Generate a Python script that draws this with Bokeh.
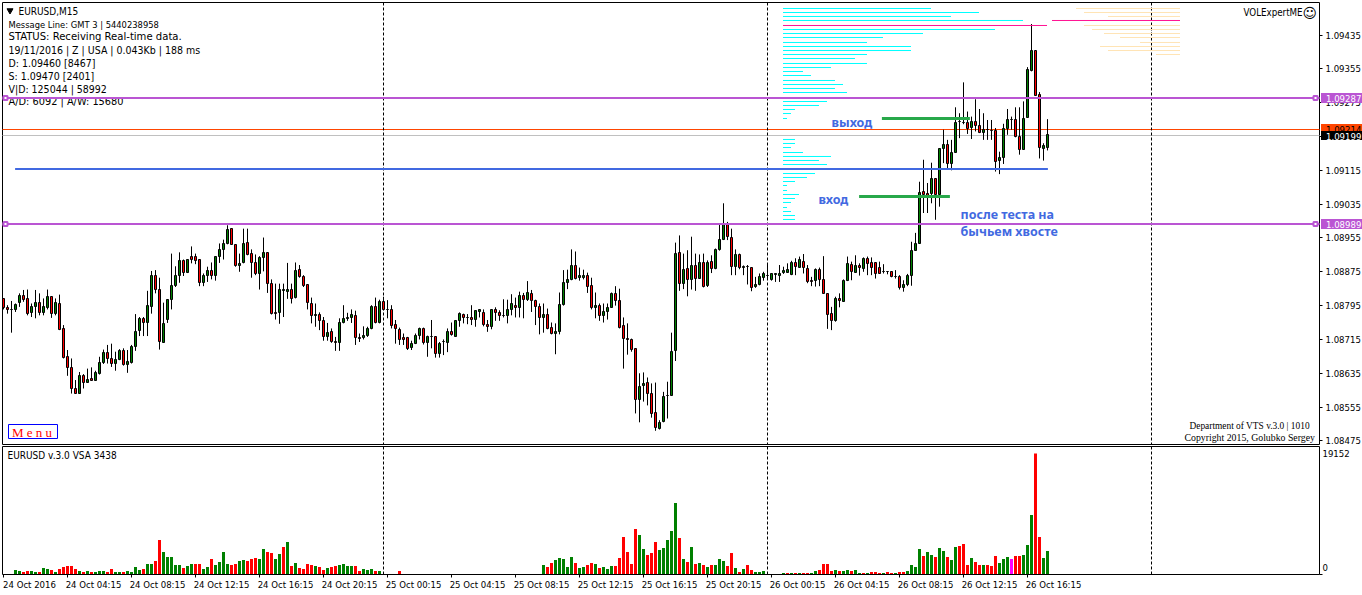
import math
from bokeh.plotting import figure
from bokeh.models import Range1d, FixedTicker, Label, PrintfTickFormatter, ColumnDataSource, BoxAnnotation
from bokeh.layouts import column
from bokeh.embed import file_html
from bokeh.resources import INLINE

# EURUSD M15 candles: prices in points (1e-5) above 1.08000
BASE_PRICE = 1.08
OPEN_PTS = [
812,791,786,786,802,819,812,778,792,802,
778,790,817,776,800,741,675,649,599,587,
630,613,623,619,634,660,684,670,658,668,
689,656,661,698,735,765,755,793,866,833,
707,762,809,842,866,902,873,911,911,904,
850,866,878,866,911,928,942,977,939,889,
897,944,918,897,871,909,921,847,779,778,
831,828,833,814,880,864,845,800,772,774,
760,721,734,710,708,755,765,766,772,720,
720,724,741,793,755,805,786,786,750,739,
720,720,695,705,724,741,708,721,722,682,
709,708,734,722,760,774,767,767,762,781,
779,750,745,786,779,771,771,786,795,790,
819,809,824,807,793,767,774,743,729,733,
798,850,857,890,861,862,866,843,791,795,
771,781,791,824,807,748,717,715,694,573,
606,613,587,542,505,521,583,583,689,921,
847,883,857,890,859,897,842,899,883,928,
951,989,956,887,916,885,887,885,840,845,
862,867,857,869,867,873,873,869,897,885,
900,883,855,854,881,857,824,777,759,812,
804,854,892,874,890,883,907,897,897,885,
876,876,876,863,865,838,844,866,926,942,
1066,1061,1061,1096,1057,1167,1177,1132,1156,1230,
1229,1229,1216,1230,1222,1204,1212,1210,1208,1138,
1145,1215,1236,1236,1196,1165,1241,1351,1399,1295,1167,1169]
CLOSE_PTS = [
791,785,786,798,819,810,776,793,802,778,
793,817,776,802,739,672,649,599,587,630,
613,620,618,637,661,684,670,658,668,689,
655,663,698,734,765,755,795,866,833,709,
753,809,843,866,902,873,904,904,902,849,
866,878,867,911,928,942,975,939,890,895,
942,916,897,871,909,921,847,776,776,833,
833,833,813,878,864,842,802,772,774,759,
721,731,710,707,755,765,767,774,720,717,
724,741,793,755,805,786,786,748,741,715,
715,693,705,724,741,708,722,721,682,705,
709,734,726,760,776,767,767,762,783,786,
750,745,786,779,771,771,786,800,790,819,
809,826,807,793,767,774,742,729,734,798,
850,857,890,859,866,866,840,791,795,771,
780,791,824,807,743,717,715,691,573,604,
611,587,540,507,519,580,583,687,918,847,
880,857,890,859,897,840,897,883,928,951,
989,958,887,916,885,887,887,838,845,864,
871,867,871,871,871,879,881,897,887,904,
885,851,851,881,857,824,774,759,812,807,
855,895,875,890,885,907,895,885,871,871,
876,876,863,863,838,846,866,926,942,1063,
1057,1053,1096,1057,1167,1177,1132,1158,1229,1230,
1229,1215,1230,1222,1204,1212,1212,1210,1136,1146,
1215,1236,1236,1196,1165,1238,1353,1399,1293,1169,1173,1199]
HIGH_PTS = [
812,796,806,800,824,832,833,800,832,824,
812,833,817,812,821,749,690,670,619,638,
633,646,649,641,674,691,702,705,686,692,
694,690,702,775,768,768,830,877,879,861,
802,809,918,888,921,904,904,935,918,904,
871,887,897,911,942,951,985,977,939,918,
977,977,928,916,912,956,921,857,847,847,
847,896,847,897,891,867,845,814,800,779,
768,754,741,721,765,796,778,786,783,729,
746,745,796,814,809,816,808,796,761,743,
729,721,712,729,743,743,724,761,722,709,
715,741,755,761,779,776,775,796,784,786,
786,761,786,791,784,810,809,822,814,828,
825,853,832,809,800,800,788,755,753,826,
879,880,928,923,885,880,873,861,826,800,
800,800,826,841,835,767,753,717,694,635,
637,625,611,613,524,591,615,731,944,961,
918,926,958,918,916,918,902,914,930,989,
1037,993,977,928,918,890,891,885,863,871,
875,895,872,871,891,887,895,901,907,911,
917,891,863,883,885,912,824,792,816,824,
857,911,899,914,895,909,911,909,897,899,
893,875,876,879,867,855,870,946,967,1088,
1140,1085,1133,1096,1167,1211,1187,1187,1264,1250,
1323,1254,1242,1283,1260,1250,1234,1234,1215,1159,
1225,1260,1242,1264,1264,1278,1359,1461,1399,1300,1179,1236]
LOW_PTS = [
786,776,731,780,792,804,772,768,765,772,
772,786,766,772,737,670,629,587,587,587,
599,613,618,617,632,657,658,650,641,666,
653,636,658,688,723,723,723,776,824,691,
707,754,786,839,849,865,872,895,893,841,
841,851,857,854,896,904,940,939,887,875,
895,914,861,867,833,876,825,774,762,752,
768,811,800,812,861,839,786,753,745,737,
712,712,707,688,688,753,759,754,702,709,
715,721,739,753,753,784,765,741,705,702,
702,690,690,704,715,703,674,694,672,672,
678,685,724,721,745,753,751,749,745,767,
746,733,739,759,759,767,753,772,767,767,
765,806,780,749,727,731,739,727,680,727,
795,834,855,857,854,857,825,786,765,759,
755,762,791,795,741,646,679,686,540,519,
568,559,530,499,502,519,528,583,664,830,
834,817,833,830,858,838,839,872,881,925,
950,950,867,867,881,867,845,829,837,843,
854,857,854,851,851,870,873,867,867,884,
871,848,841,840,841,824,740,737,757,791,
804,853,855,873,866,875,867,867,859,871,
871,869,862,859,833,828,841,842,936,942,
1014,1014,1037,998,1029,1132,1120,1115,1156,1191,
1224,1201,1189,1207,1203,1187,1187,1187,1112,1106,
1130,1199,1211,1193,1152,1165,1241,1349,1291,1143,1138,1162]

VOLUME = [
0,0,0,636,477,318,477,477,318,318,
954,795,636,318,795,1113,1272,1272,795,477,
318,477,318,318,477,477,318,795,318,318,
318,477,318,1113,636,795,1590,1590,2067,5406,
3498,2703,2703,1431,1431,954,1272,1590,1590,1590,
795,1113,2385,1431,1908,3498,1590,1431,1590,2067,
2226,2067,2385,2544,2385,3975,3498,3339,2385,3180,
4293,5088,1272,1749,954,795,1590,1431,1272,1113,
636,954,1113,1272,1431,1590,1272,1272,1272,477,
795,636,795,477,477,0,0,0,0,477,
0,0,0,0,0,0,0,0,0,0,
0,0,0,0,0,0,0,0,0,0,
0,0,0,0,0,0,0,0,0,0,
0,0,0,0,0,1431,1113,1749,2226,2544,
2385,1113,2703,1749,954,1113,1431,1749,1590,954,
1113,795,1272,1272,2544,5883,3498,1590,7155,6201,
3975,3021,3339,5088,3816,4134,5406,6837,11289,5724,
2385,1908,4293,1590,1749,1431,1113,1431,1431,2385,
2067,1272,3339,954,318,795,1431,636,318,318,
477,0,0,0,0,159,159,159,159,159,
159,159,159,477,636,1590,1590,477,636,477,
477,636,477,636,159,159,159,318,318,159,
159,318,159,159,318,318,477,1431,1113,3975,
2862,3498,3021,2703,4134,3657,2703,2226,4293,4452,
4770,1431,2544,1908,1431,1431,1431,1272,2862,1749,
2385,2703,2385,2862,2862,3021,4611,9381,19152,5883,2544,3657]
VOLUME_DIR = list(
"gggggrrggr" "ggrgrrrrrg" "rgrgggrrgg" "rggggrggrr" "gggggrggrr"
"ggrggggrrg" "grrrggrrgg" "rgrgrrrrgr" "rgrrggggrr" "gggrgggggr"
"gggggggggg" "gggggggggg" "gggggggggg" "ggggggrrgg" "gggrggrrgr"
"gggrrrrrrg" "grrrgggggr" "grgrgrgrgg" "grrgrgrrgg" "ggggggrgrg"
"rrggrrrrgr" "ggrggrgrrr" "grrgrrgggg" "rggrggrggr" "rrgrrgrrrg"
"ggmrrgggrrgg")

# volume-at-price profiles (price points above 1.08000, length in bar units)
PROFILE_LEVELS = [1497.7,1488.2,1478.8,1469.3,1457.5,1448.0,1438.5,1429.1,1417.3,1407.8,1398.3,1388.9,1379.4,1367.6,1358.1,1348.7,1339.2,1327.4,1317.9,1308.5,1299.0,
                  1277.7,1268.3,1258.8,1249.3,1237.5,1187.9,1178.4,1168.9,1157.1,1147.7,1138.2,1128.7,1116.9,1107.4,1098.0,1088.5,1079.1,1067.2,1057.8,1048.3,1038.9,1027.0,1017.6,1008.1,998.7]
PROFILE_LEFT = [37,49,42,60,66,53,35,25,21,32,32,21,18,21,12,5,7,13,15,13,16,
                11,9,3,2,1,3,3,2,5,12,9,11,10,8,6,3,1,1,4,3,2,1,2,3,3]
PROFILE_RIGHT_LEVELS = [1497.7,1488.2,1478.8,1469.3,1457.5,1448.0,1438.5,1429.1,1417.3,1407.8,1398.3,1388.9]
PROFILE_RIGHT = [26,24,18,32,24,22,19,15,10,20,18,6]

PRICE_TICKS = [1.09435,1.09355,1.09275,1.09195,1.09115,1.09035,1.08955,1.08875,1.08795,1.08715,1.08635,1.08555,1.08475]
TIME_TICK_BARS = list(range(0, 272, 16))
TIME_LABELS = ["24 Oct 2016","24 Oct 04:15","24 Oct 08:15","24 Oct 12:15","24 Oct 16:15","24 Oct 20:15",
               "25 Oct 00:15","25 Oct 04:15","25 Oct 08:15","25 Oct 12:15","25 Oct 16:15","25 Oct 20:15",
               "26 Oct 00:15","26 Oct 04:15","26 Oct 08:15","26 Oct 12:15","26 Oct 16:15"]
VOLUME_MAX = 19152
DAY_BREAK_BARS = [95, 191, 287]
LEVEL_UPPER, LEVEL_LOWER, LEVEL_ASK, LEVEL_BID = 1.09287, 1.08989, 1.09214, 1.09199
LINE_UPPER, LINE_LOWER, LINE_ASK, LINE_BID = 1.09286, 1.08988, 1.092115, 1.091973
TREND_PRICE, TREND_BARS = 1.091181, (2.9, 261.1)
EXIT_PRICE, EXIT_BARS = 1.092375, (219.6, 241.6)
ENTRY_PRICE, ENTRY_BARS = 1.090531, (213.9, 236.6)
INFO_LINES = ["19/11/2016 | Z | USA | 0.043Kb | 188 ms",
              "D: 1.09460  [8467]", "S: 1.09470  [2401]",
              "V|D: 125044 | 58992"]
STATUS_LINE = "STATUS:  Receiving Real-time data."
AD_LINE = "A/D: 6092 | A/W: 15680"

GREEN, RED, MAGENTA = "#008000", "#FF0000", "#FF00FF"
PURPLE, BLUE, LINE_GREEN = "#BA55D3", "#4169E1", "#28A84A"
FONT, SERIF = "DejaVu Sans Condensed", "Liberation Serif"
PX = 2.365e-5
H1, H2 = 445, 150
VPX = 159

def price(p):
    return BASE_PRICE + p / 1e5
def py2price(y):
    return 1.09435 - (y - 35) * PX
def snap(pr):
    y = 35 + (1.09435 - pr) / PX
    return py2price(math.floor(y) + 0.5)
def px2bar(x):
    return (x - 3.5) / 4

n = len(OPEN_PTS)
xs = list(range(n))
xr = Range1d(px2bar(0.5), px2bar(1362.5))
AXIS_BAR = px2bar(1319.5)

COMMON = dict(toolbar_location=None, output_backend="svg", min_border_left=0, min_border_right=0,
              min_border_top=0, min_border_bottom=0, outline_line_color=None, y_axis_location="right")
p = figure(width=1362, height=H1, x_range=xr, y_range=Range1d(py2price(H1 + 0.5), py2price(0.5)), x_axis_location=None, **COMMON)
p.grid.visible = False
ax = p.yaxis[0]
ax.fixed_location = AXIS_BAR
ax.ticker = FixedTicker(ticks=PRICE_TICKS)
ax.formatter = PrintfTickFormatter(format="%.5f")
ax.major_tick_out, ax.major_tick_in, ax.minor_tick_out, ax.minor_tick_in = 3, 0, 0, 0
ax.major_label_standoff = 3
ax.major_label_text_font = FONT
ax.major_label_text_font_size = "9.5px"
ax.major_label_text_color = "black"
ax.axis_line_color = None

# frame
L, R = px2bar(2.5), AXIS_BAR
p.segment([L, L, R, L], [py2price(2.5), py2price(444.5), py2price(2.5), py2price(2.5)],
          [R, R, R, L], [py2price(2.5), py2price(444.5), py2price(444.5), py2price(444.5)], line_color="black", line_width=1, level="underlay")
p.segment([L, L], [LINE_ASK, LINE_BID], [R, R], [LINE_ASK, LINE_BID], line_color=["#FF4500", "#C0C0C0"], line_width=1, level="underlay")
p.segment(DAY_BREAK_BARS, [py2price(2.5)] * 3, DAY_BREAK_BARS, [py2price(444.5)] * 3, line_color="black", line_width=1, line_dash="3 2", level="underlay")

hi = [price(max(h, o, c)) for h, o, c in zip(HIGH_PTS, OPEN_PTS, CLOSE_PTS)]
lo = [price(min(l, o, c)) for l, o, c in zip(LOW_PTS, OPEN_PTS, CLOSE_PTS)]
op = [snap(price(v)) for v in OPEN_PTS]
cl = [snap(price(v)) for v in CLOSE_PTS]
cols = [GREEN if c >= o else RED for o, c in zip(OPEN_PTS, CLOSE_PTS)]
src = ColumnDataSource(dict(x=xs, hi=hi, lo=lo, op=op, cl=cl, col=cols))
p.segment("x", "hi", "x", "lo", source=src, line_color="black", line_width=1)
p.vbar("x", 0.5, "op", "cl", source=src, fill_color="col", line_color="black", line_width=1)

# volume profiles
prof_x0 = px2bar(783)
prof_right = px2bar(1180)
left_poc, right_poc = max(PROFILE_LEFT), max(PROFILE_RIGHT)
lev_l = [price(v) for v in PROFILE_LEVELS]
lev_r = [price(v) for v in PROFILE_RIGHT_LEVELS]
p.segment([prof_x0] * len(PROFILE_LEFT), lev_l, [prof_x0 + v for v in PROFILE_LEFT], lev_l,
          line_color=["#FF1493" if v == left_poc else "#00FFFF" for v in PROFILE_LEFT], line_width=1)
p.segment([prof_right - v for v in PROFILE_RIGHT], lev_r, [prof_right] * len(PROFILE_RIGHT), lev_r,
          line_color=["#FF1493" if v == right_poc else "#FFE4B5" for v in PROFILE_RIGHT], line_width=1)

def T(fig, px, py, s, size=10, font=FONT, color="black", style="normal", align="left", **kw):
    lb = Label(x=px, y=py, x_units="canvas", y_units="canvas", text=s, text_font=font,
               text_font_size=f"{size}px", text_color=color, text_font_style=style,
               text_align=align, text_baseline="middle", **kw)
    fig.add_layout(lb)
    return lb

def BOX(fig, l, r, t, b, fill, line=None):
    fig.add_layout(BoxAnnotation(left=l - 0.5, right=r - 0.5, top=t - 0.5, bottom=b - 0.5, left_units="canvas", right_units="canvas",
                                 top_units="canvas", bottom_units="canvas", fill_color=fill, fill_alpha=1,
                                 line_color=line, line_alpha=1, line_width=1))

# header
p.scatter([px2bar(10)], [py2price(10.5)], marker="inverted_triangle", size=6, color="black")
T(p, 18, 11, "EURUSD,M15", 10)
T(p, 8, 24, "Message Line: GMT 3 | 5440238958", 9.3)
T(p, 8, 36, STATUS_LINE, 11.2)
for py, line in zip([49, 62, 75, 88], INFO_LINES):
    T(p, 8, py, line, 10.5)
T(p, 8, 101, AD_LINE, 10.9, level="underlay")

T(p, 1243, 12, "VOLExpertME", 9.7)
T(p, 1302, 12, "\u263a", 14, font="DejaVu Sans")
T(p, 1189, 425, "Department of VTS  v.3.0 | 1010", 9.4, font=SERIF)
T(p, 1184, 437, "Copyright 2015, Golubko Sergey", 9.8, font=SERIF)
BOX(p, 8.5, 57.5, 424.5, 438.5, "white", "#0000FF")
T(p, 11.5, 431.5, "M e n u", 13, font=SERIF, color="#FF0000")
ANNOT = dict(size=12.5, font="Noto Sans", color=BLUE, style="bold")
T(p, 831, 122, "выход", **ANNOT)
T(p, 818, 199, "вход", **ANNOT)
T(p, 960, 214, "после теста на", **ANNOT)
T(p, 960, 231, "бычьем хвосте", **ANNOT)

# horizontal levels and trade lines
p.segment([TREND_BARS[0]], [TREND_PRICE], [TREND_BARS[1]], [TREND_PRICE], line_color=BLUE, line_width=2)
p.segment([EXIT_BARS[0], ENTRY_BARS[0]], [EXIT_PRICE, ENTRY_PRICE], [EXIT_BARS[1], ENTRY_BARS[1]], [EXIT_PRICE, ENTRY_PRICE],
          line_color=LINE_GREEN, line_width=3)
p.segment([L, L], [LINE_UPPER, LINE_LOWER], [R, R], [LINE_UPPER, LINE_LOWER], line_color=PURPLE, line_width=2)
for lev in (LINE_UPPER, LINE_LOWER):
    p.scatter([px2bar(5.5), px2bar(1315.5)], [lev, lev], marker="square", size=4, fill_color="white", line_color=PURPLE, line_width=2)

# price tags on the axis
for lev, t, b, bg, fg, ty in ((LEVEL_UPPER, 93, 103, PURPLE, "white", 98), (LEVEL_LOWER, 219, 229, PURPLE, "white", 224),
                              (LEVEL_ASK, 124, 131, "#FF4500", "black", 129), (LEVEL_BID, 131, 140, "black", "white", 135.5)):
    BOX(p, 1321, 1362, t, b, bg)
    T(p, 1325.5, ty, f"{lev:.5f}", 9.5, color=fg)
BOX(p, 1321, 1362, 131, 140, "black")
T(p, 1325.5, 135.5, f"{LEVEL_BID:.5f}", 9.5, color="white")

# volume panel
def vy(y):
    return (574 - y) * VPX
v = figure(width=1362, height=H2, x_range=xr, y_range=Range1d(vy(445.5 + H2), vy(445.5)), **COMMON)
v.grid.visible = False
vc = [{"g": GREEN, "r": RED, "m": MAGENTA}[d] for d in VOLUME_DIR]
v.segment([L, L, R, L, R], [vy(446.5), vy(574.5), vy(446.5), vy(446.5), vy(574.5)],
          [R, R, R, L, px2bar(1322.5)], [vy(446.5), vy(574.5), vy(574.5), vy(574.5), vy(574.5)],
          line_color="black", line_width=1, level="underlay")
v.vbar(xs, 0.75, VOLUME, [0] * n, fill_color=vc, line_color=None)
v.segment(DAY_BREAK_BARS, [vy(446.5)] * 3, DAY_BREAK_BARS, [vy(574.5)] * 3, line_color="black", line_width=1, line_dash="3 2")
ya = v.yaxis[0]
ya.fixed_location = AXIS_BAR
zero_label_at = vy(567)
ya.ticker = FixedTicker(ticks=[zero_label_at, VOLUME_MAX])
ya.major_label_overrides = {zero_label_at: "0", VOLUME_MAX: str(VOLUME_MAX)}
ya.major_tick_out, ya.major_tick_in, ya.minor_tick_out, ya.minor_tick_in = 0, 0, 0, 0
ya.major_label_standoff = 3
ya.major_label_text_font = FONT
ya.major_label_text_font_size = "9.5px"
ya.major_label_text_color = "black"
ya.axis_line_color = None
xa = v.xaxis[0]
xa.fixed_location = vy(574.5)
centers = [t + 6.5 for t in TIME_TICK_BARS]
xa.ticker = FixedTicker(ticks=centers, minor_ticks=TIME_TICK_BARS)
xa.major_label_overrides = dict(zip(centers, TIME_LABELS))
xa.major_tick_out, xa.major_tick_in = 0, 0
xa.minor_tick_out, xa.minor_tick_in = 3, 0
xa.major_label_standoff = 1
xa.axis_line_color = None
xa.major_label_text_font = FONT
xa.major_label_text_font_size = "9.5px"
xa.major_label_text_color = "black"
T(v, 7, 10, "EURUSD v.3.0 VSA 3438", 10)

layout = column(p, v, spacing=0)
open("out.html", "w").write(file_html(layout, INLINE))
